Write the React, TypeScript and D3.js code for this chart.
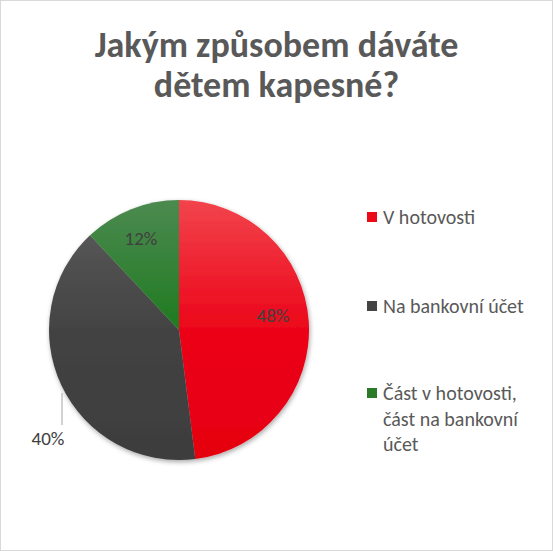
import React, { useEffect, useRef } from "react";
import * as d3 from "d3";

const categories = ["V hotovosti", "Na bankovní účet", "Část v hotovosti, část na bankovní účet"];
const legendLines = [["V hotovosti"], ["Na bankovní účet"], ["Část v hotovosti,", "část na bankovní", "účet"]];
const values = [48, 40, 12];
const labels = ["48%", "40%", "12%"];
const titleLines = ["Jakým způsobem dáváte", "dětem kapesné?"];

const W = 553;
const H = 551;
const cx = 179;
const cy = 330;
const R = 130;
const FONT = "Carlito, Calibri, Lato, sans-serif";

const gradStops = [
  ["#f2444c", "#ec0519", "#e5000f"],
  ["#5c5c5c", "#434343", "#3d3d3d"],
  ["#4c8a50", "#1f7a20", "#1b761d"],
];
const swatch = ["#ec0a18", "#444444", "#2a7a2a"];

export default function App() {
  const ref = useRef<SVGSVGElement>(null);

  useEffect(() => {
    const svg = d3.select(ref.current);
    svg.selectAll("*").remove();

    svg.append("rect")
      .attr("x", 0.5).attr("y", 0.5)
      .attr("width", W - 1).attr("height", H - 1)
      .attr("fill", "#fff").attr("stroke", "#d9d9d9");

    const defs = svg.append("defs");
    gradStops.forEach((g, i) => {
      const lg = defs.append("linearGradient")
        .attr("id", "g" + i)
        .attr("gradientUnits", "userSpaceOnUse")
        .attr("x1", 0).attr("y1", -R).attr("x2", 0).attr("y2", R);
      lg.append("stop").attr("offset", "0%").attr("stop-color", g[0]);
      lg.append("stop").attr("offset", "50%").attr("stop-color", g[1]);
      lg.append("stop").attr("offset", "100%").attr("stop-color", g[2]);
    });
    const f = defs.append("filter").attr("id", "sh").attr("x", "-20%").attr("y", "-20%").attr("width", "140%").attr("height", "140%");
    f.append("feGaussianBlur").attr("in", "SourceAlpha").attr("stdDeviation", 2.5);
    f.append("feOffset").attr("dx", 1).attr("dy", 2).attr("result", "b");
    f.append("feComponentTransfer").append("feFuncA").attr("type", "linear").attr("slope", 0.35);
    const m = f.append("feMerge");
    m.append("feMergeNode");
    m.append("feMergeNode").attr("in", "SourceGraphic");

    svg.selectAll("text.title")
      .data(titleLines)
      .enter()
      .append("text")
      .attr("class", "title")
      .attr("x", W / 2)
      .attr("y", (d, i) => 57 + i * 40)
      .attr("text-anchor", "middle")
      .attr("font-family", FONT)
      .attr("font-weight", "bold")
      .attr("font-size", 36)
      .attr("fill", "#595959")
      .text((d) => d);

    const pie = d3.pie<number>().sort(null).value((d) => d);
    const arcs = pie(values);
    const arc = d3.arc<d3.PieArcDatum<number>>().innerRadius(0).outerRadius(R);

    const g = svg.append("g").attr("transform", `translate(${cx},${cy})`);
    g.append("g").attr("filter", "url(#sh)")
      .selectAll("path")
      .data(arcs)
      .enter()
      .append("path")
      .attr("d", arc)
      .attr("fill", (d, i) => `url(#g${i})`);

    const labelPos: [number, number][] = [
      [273 - cx, 315 - cy],
      [48 - cx, 438 - cy],
      [141 - cx, 238 - cy],
    ];
    g.selectAll("text.lab")
      .data(arcs)
      .enter()
      .append("text")
      .attr("class", "lab")
      .attr("x", (d, i) => labelPos[i][0])
      .attr("y", (d, i) => labelPos[i][1])
      .attr("text-anchor", "middle")
      .attr("dominant-baseline", "central")
      .attr("font-family", FONT)
      .attr("font-size", 19)
      .attr("fill", "#404040")
      .text((d, i) => labels[i]);

    // leader line for 40%
    const lx = 62 - cx;
    g.append("path")
      .attr("d", `M${lx},${425 - cy}L${lx},${393 - cy}`)
      .attr("stroke", "#a6a6a6")
      .attr("fill", "none");

    const leg = svg.append("g");
    const itemY = [217, 306, 393];
    categories.forEach((c, i) => {
      leg.append("rect")
        .attr("x", 367).attr("y", itemY[i] - 5)
        .attr("width", 10).attr("height", 10)
        .attr("fill", swatch[i]);
      legendLines[i].forEach((t, j) => {
        leg.append("text")
          .attr("x", 383)
          .attr("y", itemY[i] + j * 25.5)
          .attr("dominant-baseline", "central")
          .attr("font-family", FONT)
          .attr("font-size", 20)
          .attr("fill", "#595959")
          .text(t);
      });
    });
  }, []);

  return (
    <svg
      ref={ref}
      width={W}
      height={H}
      style={{ position: "absolute", left: 0, top: 0, display: "block" }}
    />
  );
}
